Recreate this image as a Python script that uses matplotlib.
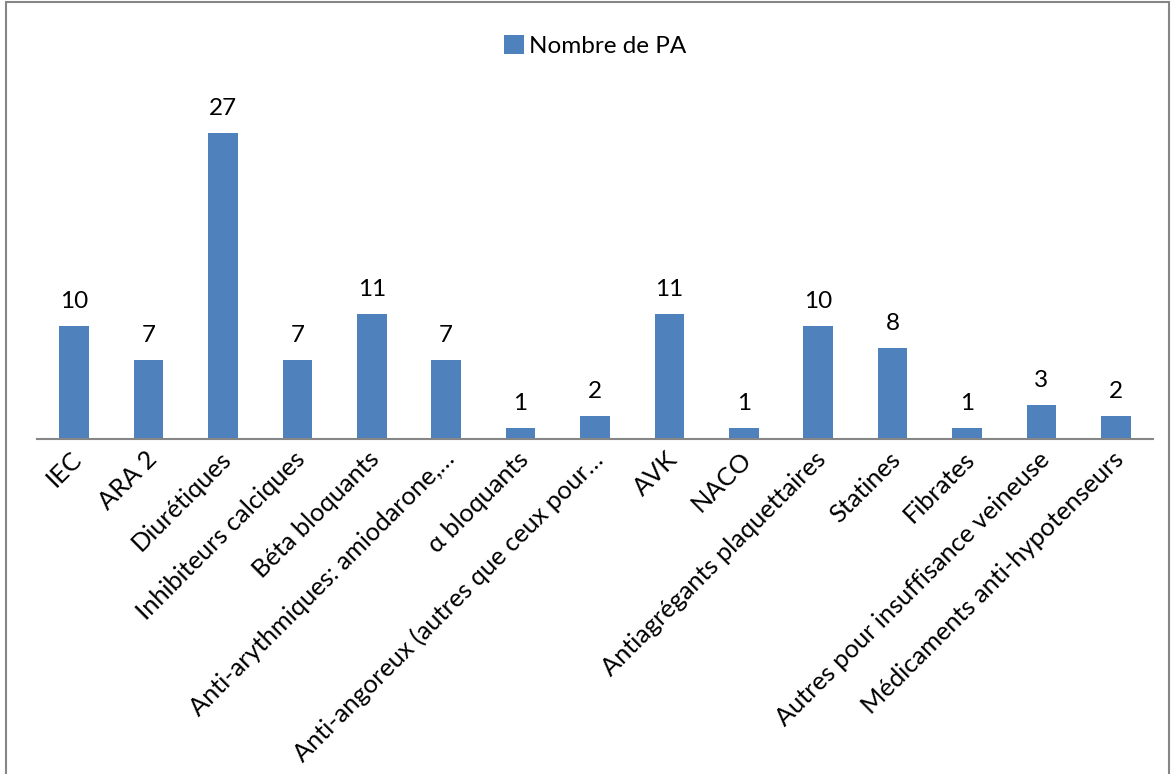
import matplotlib
matplotlib.use("Agg")
import matplotlib.pyplot as plt
from matplotlib.patches import Rectangle
from matplotlib.transforms import ScaledTranslation

categories = ["IEC", "ARA 2", "Diurétiques", "Inhibiteurs calciques", "Béta bloquants",
              "Anti-arythmiques: amiodarone,…", "α bloquants", "Anti-angoreux (autres que ceux pour…",
              "AVK", "NACO", "Antiagrégants plaquettaires", "Statines", "Fibrates",
              "Autres pour insuffisance veineuse", "Médicaments anti-hypotenseurs"]
values = [10, 7, 27, 7, 11, 7, 1, 2, 11, 1, 10, 8, 1, 3, 2]
series_name = "Nombre de PA"

plt.rcParams['font.family'] = ['Lato', 'DejaVu Sans']
color = "#4F81BD"
fs = 17.5

fig = plt.figure(figsize=(11.71, 7.74), dpi=100)
fig.patches.append(Rectangle((6/1171, -0.01), (1169-6)/1171, 1.01 - 2/774, transform=fig.transFigure,
                             fill=False, edgecolor="#868686", linewidth=1.5))

ax = fig.add_axes([37/1171, 1 - 439/774, 1116/1171, 340/774])
x = list(range(len(categories)))
bars = ax.bar(x, values, width=0.4, color=color)
ax.set_xlim(-0.5, len(categories) - 0.5)
ax.set_ylim(0, 30)
for b, v in zip(bars, values):
    ax.annotate(str(v), (b.get_x() + b.get_width() / 2, v), xytext=(0, 10), textcoords='offset points',
                ha='center', va='bottom', fontsize=fs)

for s in ['top', 'right', 'left']:
    ax.spines[s].set_visible(False)
ax.spines['bottom'].set_color("#868686")
ax.spines['bottom'].set_linewidth(1.5)
ax.set_yticks([])
ax.set_xticks(x)
ax.set_xticklabels(categories, rotation=45, ha='right', va='top', rotation_mode='anchor', fontsize=18.3)
ax.tick_params(axis='x', length=0, pad=6)
offset = ScaledTranslation(-4 / 100, 0, fig.dpi_scale_trans)
for lbl in ax.get_xticklabels():
    lbl.set_transform(lbl.get_transform() + offset)

ax.legend([bars[0]], [series_name], loc='center', bbox_to_anchor=(0.5, 1.0 + (99 - 46) / 340),
          frameon=False, fontsize=fs, handlelength=0.8, handleheight=0.8, handletextpad=0.2)

fig.savefig("out.png", dpi=100)
